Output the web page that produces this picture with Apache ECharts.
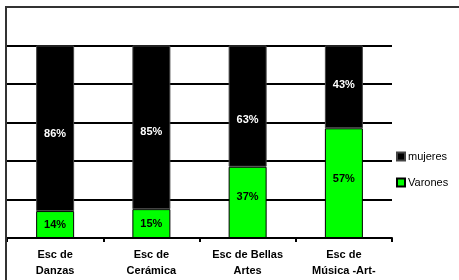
<!DOCTYPE html>
<html>
<head>
<meta charset="utf-8">
<script src="https://cdn.jsdelivr.net/npm/echarts@6/dist/echarts.min.js"></script>
<style>
  html, body { margin: 0; padding: 0; background: #fff; }
  #chart { width: 459px; height: 280px; }
</style>
</head>
<body>
<div id="chart"></div>
<script>
// data
const categories = ['Esc de\nDanzas', 'Esc de\nCerámica', 'Esc de Bellas\nArtes', 'Esc de\nMúsica -Art-'];
const mujeres = [86, 85, 63, 43];
const varones = [14, 15, 37, 57];

const font = '"Liberation Sans", Arial, sans-serif';

// the original labels are not all sitting dead centre in their segment
const mujeresLabelShift = [6, 5, 14, -2];
const varonesLabelShift = [0, 0, -5, -4];

function withShift(values, shifts) {
  return values.map((v, i) => ({ value: v, label: { offset: [0, shifts[i]] } }));
}

let myChart = echarts.init(document.getElementById('chart'));

let option = {
  animation: false,
  backgroundColor: '#fff',
  textStyle: { fontFamily: font },
  grid: { left: 7, right: 67, top: 7, bottom: 42, containLabel: false },
  legend: {
    orient: 'vertical',
    left: 396,
    top: 151,
    padding: 0,
    itemWidth: 8,
    itemHeight: 8,
    itemGap: 15,
    icon: 'rect',
    data: ['mujeres', 'Varones'],
    textStyle: { fontFamily: font, fontSize: 11, color: '#000', padding: [0, 0, 0, -2] }
  },
  xAxis: {
    type: 'category',
    data: categories,
    axisLine: { lineStyle: { color: '#000', width: 2 } },
    axisTick: { show: true, length: 4, lineStyle: { color: '#000', width: 2 } },
    axisLabel: {
      margin: 9,
      fontFamily: font,
      fontSize: 11,
      fontWeight: 'bold',
      color: '#000',
      lineHeight: 16,
      interval: 0
    }
  },
  yAxis: {
    type: 'value',
    min: 0,
    max: 120,
    interval: 20,
    axisLabel: { show: false },
    axisLine: { show: false },
    axisTick: { show: false },
    splitLine: { lineStyle: { color: '#000', width: 2 } }
  },
  series: [
    {
      name: 'Varones',
      type: 'bar',
      stack: 'total',
      barWidth: 38,
      data: withShift(varones, varonesLabelShift),
      itemStyle: { color: '#00ff00', borderColor: '#000', borderWidth: 1 },
      label: {
        show: true,
        position: 'inside',
        formatter: '{c}%',
        fontFamily: font,
        fontSize: 11,
        fontWeight: 'bold',
        color: '#000'
      }
    },
    {
      name: 'mujeres',
      type: 'bar',
      stack: 'total',
      barWidth: 38,
      data: withShift(mujeres, mujeresLabelShift),
      itemStyle: { color: '#000', borderColor: '#444', borderWidth: 1 },
      label: {
        show: true,
        position: 'inside',
        formatter: '{c}%',
        fontFamily: font,
        fontSize: 11,
        fontWeight: 'bold',
        color: '#fff'
      }
    }
  ],
  graphic: [
    // outer chart border, only top and left are visible in the crop
    { type: 'line', z: 100, shape: { x1: 5, y1: 7, x2: 459, y2: 7 }, style: { stroke: '#333', lineWidth: 2 } },
    { type: 'line', z: 100, shape: { x1: 6, y1: 7, x2: 6, y2: 280 }, style: { stroke: '#333', lineWidth: 2 } }
  ]
};

myChart.setOption(option);
</script>
</body>
</html>
